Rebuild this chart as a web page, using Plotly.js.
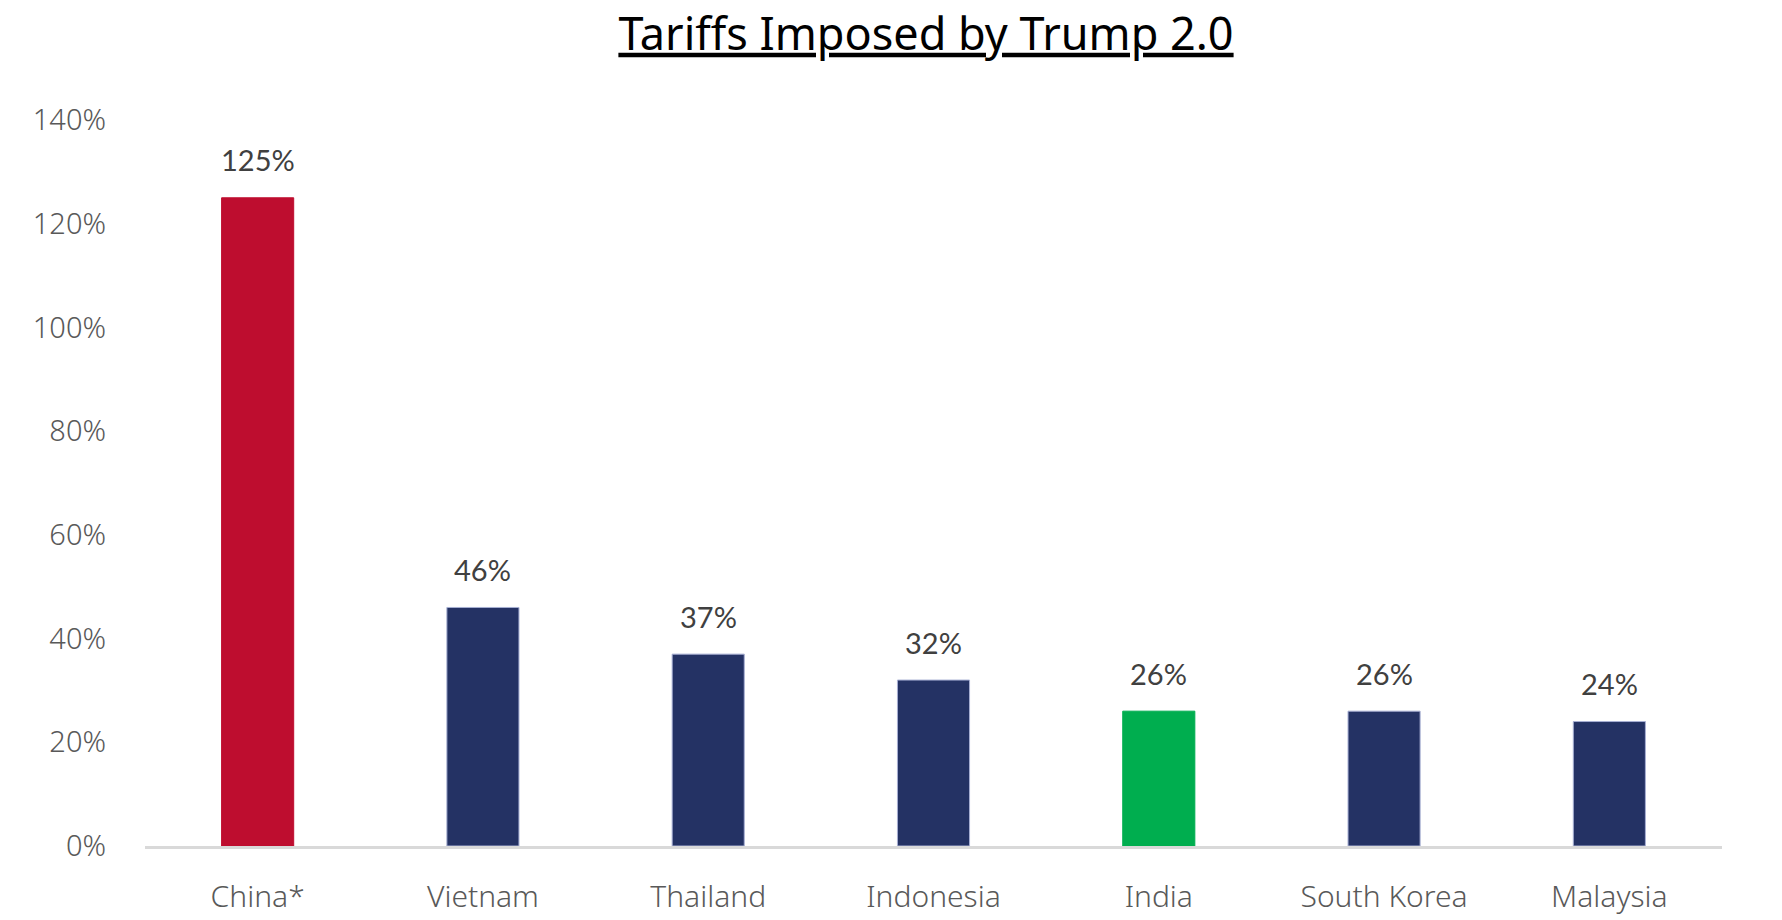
<!DOCTYPE html>
<html>
<head>
<meta charset="utf-8">
<script src="https://cdn.plot.ly/plotly-3.0.1.min.js"></script>
<style>html,body{margin:0;padding:0;background:#fff;}#chart{width:1782px;height:920px;}</style>
</head>
<body>
<div id="chart"></div>
<script>
const countries = ["China*", "Vietnam", "Thailand", "Indonesia", "India", "South Korea", "Malaysia"];
const tariffs = [125, 46, 37, 32, 26, 26, 24];
const valueLabels = ["125%", "46%", "37%", "32%", "26%", "26%", "24%"];
const barColors = ["#BE0D2F", "#243264", "#243264", "#243264", "#00AE4F", "#243264", "#243264"];
const barEdgeColors = ["#BE0D2F", "#A7AFD3", "#A7AFD3", "#A7AFD3", "#00AE4F", "#A7AFD3", "#A7AFD3"];
const yTickVals = [0, 20, 40, 60, 80, 100, 120, 140];
const yTickText = ["0%", "20%", "40%", "60%", "80%", "100%", "120%", "140%"];
const chartTitle = "Tariffs Imposed by Trump 2.0\u00A0";

const trace = {
  type: "bar",
  x: countries,
  y: tariffs,
  width: 0.32,
  marker: { color: barColors, line: { color: barEdgeColors, width: 1 } },
  hoverinfo: "skip"
};

const annotations = countries.map((c, i) => ({
  x: c, y: tariffs[i], xref: "x", yref: "y",
  text: valueLabels[i], showarrow: false,
  yanchor: "middle", yshift: 38,
  font: { family: "Lato, 'Noto Sans', sans-serif", size: 29, color: "#404040" }
}));

const layout = {
  width: 1782, height: 920,
  margin: { l: 145, r: 60, t: 120, b: 74 },
  paper_bgcolor: "#ffffff", plot_bgcolor: "#ffffff",
  showlegend: false,
  title: {
    text: chartTitle,
    x: 926 / 1782, xanchor: "center", xref: "container",
    y: 1 - 34 / 920, yanchor: "middle", yref: "container",
    font: { family: "'Noto Sans', sans-serif", size: 45, color: "#000000", lineposition: "under" }
  },
  xaxis: {
    type: "category",
    range: [-0.5, 6.5],
    showgrid: false, zeroline: false,
    showline: true, linecolor: "#D9D9D9", linewidth: 3,
    ticks: "", ticklabelstandoff: 22,
    tickfont: { family: "'Noto Sans', sans-serif", size: 30, color: "#595959", weight: 300 }
  },
  yaxis: {
    range: [0, 140],
    tickmode: "array", tickvals: yTickVals, ticktext: yTickText,
    showgrid: false, zeroline: false, showline: false,
    ticks: "", ticklabelstandoff: 38,
    tickfont: { family: "'Noto Sans', sans-serif", size: 29, color: "#595959", weight: 300 }
  },
  annotations: annotations
};

Plotly.newPlot("chart", [trace], layout, { displayModeBar: false, staticPlot: true });
</script>
</body>
</html>
